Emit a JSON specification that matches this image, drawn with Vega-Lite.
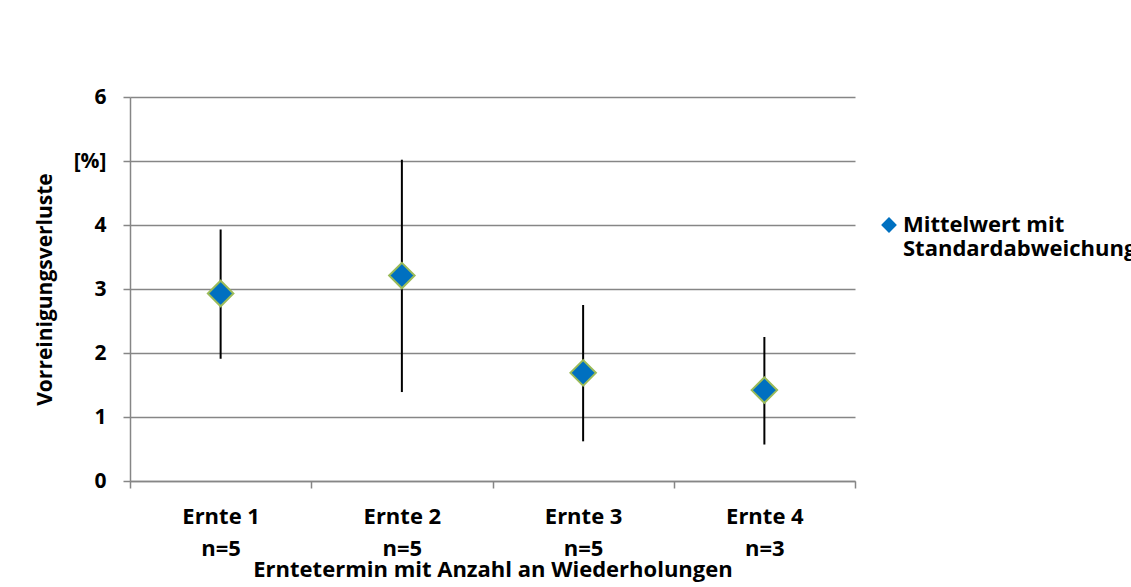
{
  "$schema": "https://vega.github.io/schema/vega-lite/v6.json",
  "width": 725,
  "height": 384,
  "autosize": {"type": "none"},
  "padding": {"left": 130, "top": 97, "right": 276, "bottom": 106},
  "background": "white",
  "config": {
    "view": {"stroke": null},
    "font": "Open Sans",
    "axis": {
      "labelFont": "Open Sans",
      "labelFontSize": 21,
      "labelFontWeight": "bold",
      "labelColor": "black",
      "titleFont": "Open Sans",
      "titleFontSize": 21,
      "titleFontWeight": "bold",
      "titleColor": "black",
      "domainColor": "#868686",
      "domainWidth": 1.5,
      "tickColor": "#868686",
      "tickWidth": 1.5,
      "tickSize": 7,
      "gridColor": "#868686",
      "gridWidth": 1.5
    }
  },
  "data": {
    "values": [
      {"ernte": "Ernte 1|n=5", "mean": 2.93, "lo": 1.91, "hi": 3.93, "serie": "Mittelwert mit Standardabweichung"},
      {"ernte": "Ernte 2|n=5", "mean": 3.21, "lo": 1.39, "hi": 5.02, "serie": "Mittelwert mit Standardabweichung"},
      {"ernte": "Ernte 3|n=5", "mean": 1.69, "lo": 0.62, "hi": 2.75, "serie": "Mittelwert mit Standardabweichung"},
      {"ernte": "Ernte 4|n=3", "mean": 1.42, "lo": 0.57, "hi": 2.25, "serie": "Mittelwert mit Standardabweichung"}
    ]
  },
  "encoding": {
    "x": {
      "field": "ernte",
      "type": "nominal",
      "sort": null,
      "scale": {"paddingInner": 0, "paddingOuter": 0},
      "axis": {
        "title": "Erntetermin mit Anzahl an Wiederholungen",
        "labelExpr": "isString(datum.value) ? split(datum.value, '|') : ''",
        "labelAngle": 0,
        "labelBaseline": "top",
        "labelFontSize": 22,
        "titleFontSize": 22,
        "tickBand": "extent",
        "labelPadding": 18,
        "labelLineHeight": 32,
        "titlePadding": 0,
        "grid": false
      }
    }
  },
  "layer": [
    {
      "mark": {"type": "rule", "color": "black", "strokeWidth": 2},
      "encoding": {
        "y": {
          "field": "lo",
          "type": "quantitative",
          "scale": {"domain": [0, 6]},
          "axis": {
            "title": "Vorreinigungsverluste",
            "values": [0, 1, 2, 3, 4, 5, 6],
            "labelExpr": "datum.value == 5 ? '[%]' : datum.label",
            "grid": true,
            "labelPadding": 17,
            "titlePadding": 18
          }
        },
        "y2": {"field": "hi"}
      }
    },
    {
      "mark": {
        "type": "point",
        "shape": "diamond",
        "filled": true,
        "size": 650,
        "strokeWidth": 2,
        "stroke": "#9BBB59",
        "fill": "#0070C0",
        "opacity": 1
      },
      "encoding": {
        "y": {
          "field": "mean",
          "type": "quantitative",
          "axis": {
            "title": "Vorreinigungsverluste",
            "values": [0, 1, 2, 3, 4, 5, 6],
            "labelExpr": "datum.value == 5 ? '[%]' : datum.label",
            "grid": true,
            "labelPadding": 17,
            "titlePadding": 18
          }
        },
        "shape": {
          "field": "serie",
          "type": "nominal",
          "scale": {"range": ["diamond"]},
          "legend": {
            "orient": "none",
            "legendX": 748,
            "legendY": 117,
            "title": null,
            "labelExpr": "['Mittelwert mit', 'Standardabweichung']",
            "labelFont": "Open Sans",
            "labelFontSize": 22,
            "labelFontWeight": "bold",
            "labelColor": "black",
            "labelLimit": 0,
            "labelLineHeight": 31,
            "labelOffset": 3,
            "symbolType": "diamond",
            "symbolSize": 250,
            "symbolFillColor": "#0070C0",
            "symbolStrokeColor": "#9BBB59",
            "symbolStrokeWidth": 1.5,
            "symbolOpacity": 1
          }
        }
      }
    }
  ]
}
